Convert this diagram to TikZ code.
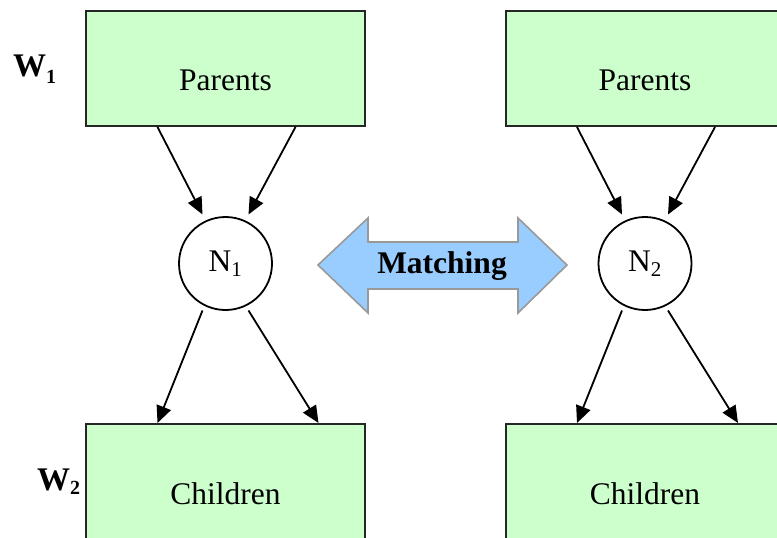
\documentclass[tikz,border=0pt]{standalone}
\usepackage{fontspec}
\setmainfont{Liberation Serif}
\usetikzlibrary{arrows.meta}
\definecolor{boxgreen}{HTML}{CCFFCC}
\definecolor{matchblue}{HTML}{99CCFF}
\definecolor{matchedge}{HTML}{999999}
\tikzset{
  wbox/.style={draw=black!85, line width=2pt, fill=boxgreen, rectangle,
    minimum width=279pt, minimum height=115pt, inner sep=0pt},
  wtext/.style={font=\fontsize{31.5}{34}\selectfont, inner sep=0pt},
  nodecirc/.style={draw, line width=1.8pt, circle, minimum size=93pt, inner sep=0pt,
    font=\fontsize{31.5}{34}\selectfont},
  link/.style={line width=1.8pt, -{Triangle[length=17pt,width=15pt]}},
  wlabel/.style={font=\bfseries\fontsize{33}{34}\selectfont, inner sep=0pt, anchor=base west}
}
\begin{document}
\begin{tikzpicture}[x=1pt,y=-1pt]
\useasboundingbox (0,0) rectangle (777,538);
\clip (0,0) rectangle (777,538);

% layer boxes
\node[wbox] (P1) at (225.5,68.5) {};
\node[wbox] (P2) at (645,68.5) {};
\node[wbox] (C1) at (225.5,481.5) {};
\node[wbox] (C2) at (645,481.5) {};
\node[wtext] (P1t) at ([yshift=-12pt]P1.center) {Parents};
\node[wtext] (P2t) at ([yshift=-12pt]P2.center) {Parents};
\node[wtext] (C1t) at ([yshift=-12pt]C1.center) {Children};
\node[wtext] (C2t) at ([yshift=-12pt]C2.center) {Children};

% nodes
\node[nodecirc] (N1) at (225.5,263.5) {N\textsubscript{\fontsize{21}{22}\selectfont 1}};
\node[nodecirc] (N2) at (645,263.5) {N\textsubscript{\fontsize{21}{22}\selectfont 2}};

% layer labels
\node[wlabel] (W1) at (13,76) {W\raisebox{-7pt}{\fontsize{20}{22}\selectfont 1}};
\node[wlabel] (W2) at (37,490) {W\raisebox{-4pt}{\fontsize{20}{22}\selectfont 2}};

% parent -> node edges (shifts are in canvas units: positive y is up)
\coordinate (p1a) at ([xshift=-68pt]P1.south);
\coordinate (p1b) at ([xshift=70pt]P1.south);
\coordinate (p2a) at ([xshift=-68pt]P2.south);
\coordinate (p2b) at ([xshift=70pt]P2.south);
\coordinate (n1a) at ([shift={(-23pt,49pt)}]N1.center);
\coordinate (n1b) at ([shift={(23pt,49pt)}]N1.center);
\coordinate (n2a) at ([shift={(-23pt,49pt)}]N2.center);
\coordinate (n2b) at ([shift={(23pt,49pt)}]N2.center);
\draw[link] (p1a) -- (n1a);
\draw[link] (p1b) -- (n1b);
\draw[link] (p2a) -- (n2a);
\draw[link] (p2b) -- (n2b);

% node -> child edges
\coordinate (m1a) at ([shift={(-23pt,-47pt)}]N1.center);
\coordinate (m1b) at ([shift={(23pt,-47pt)}]N1.center);
\coordinate (m2a) at ([shift={(-23pt,-47pt)}]N2.center);
\coordinate (m2b) at ([shift={(23pt,-47pt)}]N2.center);
\coordinate (c1a) at ([xshift=-68pt]C1.north);
\coordinate (c1b) at ([xshift=93pt]C1.north);
\coordinate (c2a) at ([xshift=-68pt]C2.north);
\coordinate (c2b) at ([xshift=93pt]C2.north);
\draw[link] (m1a) -- (c1a);
\draw[link] (m1b) -- (c1b);
\draw[link] (m2a) -- (c2a);
\draw[link] (m2b) -- (c2b);

% matching double arrow
\draw[draw=matchedge, line width=1.6pt, fill=matchblue, line join=miter]
  (318,265) -- (368,218) -- (368,242) -- (518,242) -- (518,218) -- (567,265)
  -- (518,313) -- (518,289) -- (368,289) -- (368,313) -- cycle;
\node[font=\bfseries\fontsize{31.5}{34}\selectfont, inner sep=0pt] (M) at (442,266) {Matching};
\end{tikzpicture}
\end{document}
